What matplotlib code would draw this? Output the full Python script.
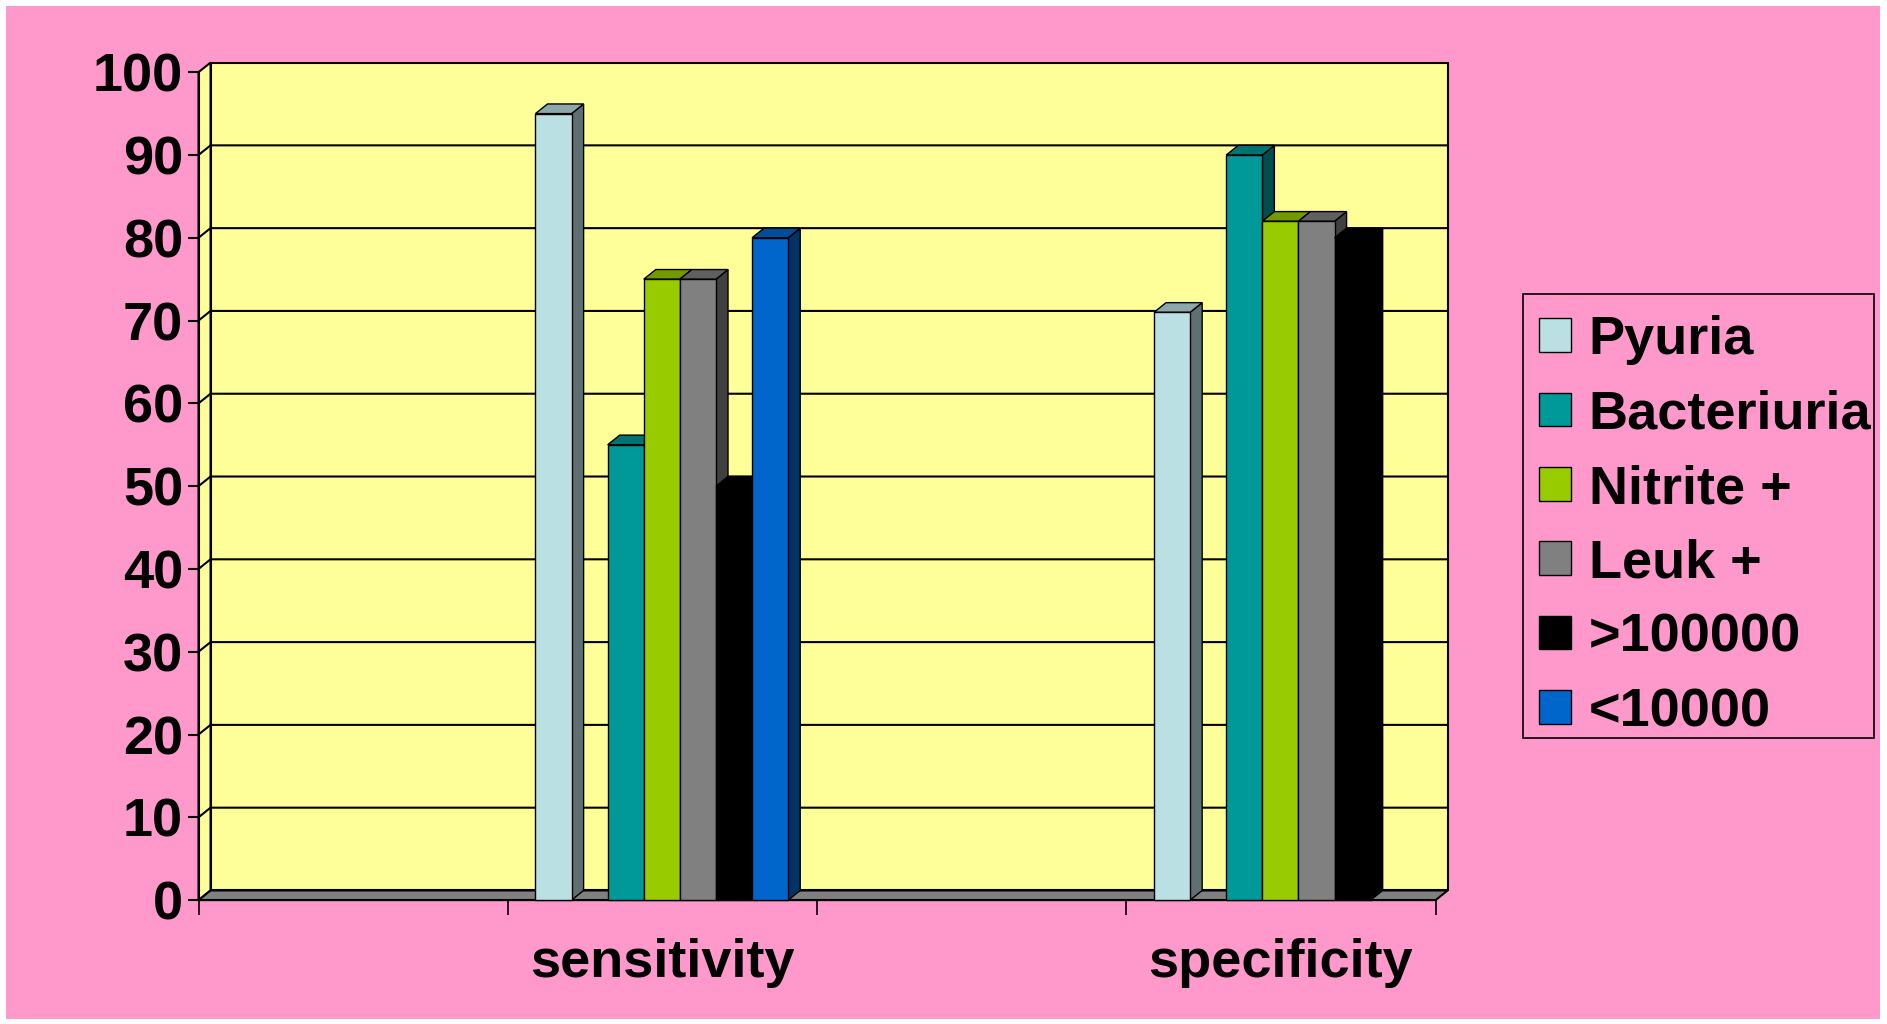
import numpy as np
import matplotlib
matplotlib.use("Agg")
import matplotlib.pyplot as plt
from matplotlib.patches import Polygon, Rectangle, Patch
from matplotlib.colors import to_rgb

categories = ["", "sensitivity", "", "specificity"]
series = ["Pyuria", "Bacteriuria", "Nitrite +", "Leuk +", ">100000", "<10000"]
colors = ["#BBE0E3", "#009999", "#99CC00", "#808080", "#000000", "#0066CC"]
# slot of each series within a category (slot 1 is left empty in the original)
slots = [0, 2, 3, 4, 5, 6]
sensitivity = [95, 55, 75, 75, 50, 80]
specificity = [71, 90, 82, 82, 80, None]
values = {1: sensitivity, 3: specificity}
yticks = [0, 10, 20, 30, 40, 50, 60, 70, 80, 90, 100]

# fake 3d geometry, in data units
SLOT_W = 30 / 257
SLOT_OFF = 23 / 257
DX = 10 / 257
DY = 8 / 6.88

W, H = 1887, 1024
WALL = "#FFFF99"
PINK = "#FF99CC"
FONT = dict(family="Liberation Sans", weight="bold", size=39)


def shade(c, f):
    return tuple(np.array(to_rgb(c)) * f)


fig = plt.figure(figsize=(W / 100, H / 100), dpi=100, facecolor="white")
fig.patches.append(Rectangle((6 / W, 5 / H), 1874 / W, 1013 / H,
                             transform=fig.transFigure, facecolor=PINK,
                             edgecolor="none", zorder=-10))

ax = fig.add_axes([0.1052, 0.121, 0.6556, 0.8085])
ax.set_xlim(0, len(categories))
ax.set_ylim(0, 100)
ax.patch.set_visible(False)
n = len(categories)

# walls and floor
ax.add_patch(Rectangle((DX, DY), n, 100, facecolor=WALL, edgecolor="k",
                       lw=1.5, clip_on=False, zorder=0))
ax.add_patch(Polygon([(0, 0), (DX, DY), (DX, 100 + DY), (0, 100)],
                     facecolor=WALL, edgecolor="k", lw=1.5, clip_on=False, zorder=0))
for v in yticks[1:-1]:
    ax.plot([0, DX, n + DX], [v, v + DY, v + DY], color="k", lw=1.5,
            clip_on=False, zorder=1)
ax.add_patch(Polygon([(0, 0), (n, 0), (n + DX, DY), (DX, DY)],
                     facecolor="#808080", edgecolor="k", lw=1.5, clip_on=False, zorder=1))

# bars
z = 3
for cat, vals in values.items():
    for i, v in enumerate(vals):
        if v is None:
            continue
        c = colors[i]
        x0 = cat + SLOT_OFF + slots[i] * SLOT_W
        x1 = x0 + SLOT_W
        ax.add_patch(Polygon([(x1, 0), (x1 + DX, DY), (x1 + DX, v + DY), (x1, v)],
                             facecolor=shade(c, 0.5), edgecolor="k", lw=1,
                             clip_on=False, zorder=z))
        ax.add_patch(Polygon([(x0, v), (x1, v), (x1 + DX, v + DY), (x0 + DX, v + DY)],
                             facecolor=shade(c, 0.75), edgecolor="k", lw=1,
                             clip_on=False, zorder=z))
        ax.bar(x0, v, width=SLOT_W, align="edge", color=c, edgecolor="k",
               lw=1, zorder=z + 0.5, clip_on=False)
        z += 1

for s in ["top", "right"]:
    ax.spines[s].set_visible(False)
for s in ["left", "bottom"]:
    ax.spines[s].set_linewidth(1.5)
    ax.spines[s].set_zorder(2)

ax.set_yticks(yticks)
ax.set_yticklabels([str(t) for t in yticks], fontdict=FONT)
ax.tick_params(axis="y", length=8, width=1.5, pad=3)

ax.set_xticks(range(n + 1))
ax.set_xticklabels([])
ax.set_xticks([i + 0.5 for i in range(n)], minor=True)
ax.set_xticklabels(categories, minor=True, fontdict=FONT)
ax.tick_params(axis="x", which="major", length=11, width=1.2)
ax.tick_params(axis="x", which="minor", length=0, pad=27)

# legend box drawn separately so its size matches the original
fig.patches.append(Rectangle((1523 / W, 1 - 738 / H), 351 / W, 444 / H,
                             transform=fig.transFigure, facecolor=PINK,
                             edgecolor="k", lw=1.2, zorder=1))
handles = [Patch(facecolor=c, edgecolor="k", lw=1) for c in colors]
fig.legend(handles, series, loc="upper left",
           bbox_to_anchor=(1523 / W, 1 - 299 / H),
           frameon=False, prop=FONT, handlelength=0.58, handleheight=0.58,
           handletextpad=0.33, labelspacing=0.45, borderpad=0.3,
           borderaxespad=0)

fig.savefig("out.png", dpi=100, facecolor="white")
